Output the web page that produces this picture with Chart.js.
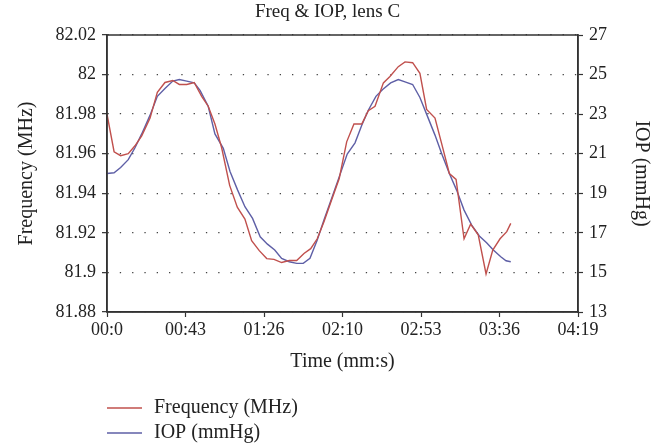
<!DOCTYPE html>
<html lang="en">
<head>
<meta charset="UTF-8">
<title>Freq & IOP, lens C</title>
<script src="https://cdn.jsdelivr.net/npm/chart.js@4.4.0/dist/chart.umd.min.js"></script>
<style>
  html, body { margin: 0; padding: 0; background: #fff; }
  #wrap { width: 655px; height: 447px; position: relative; }
</style>
</head>
<body>
<div id="wrap"><canvas id="myChart" width="655" height="447"></canvas></div>
<script>
// time in seconds, frequency in MHz
const freqTime = [0, 3.9, 7.5, 11.7, 15.4, 19.1, 23.7, 27.7, 31.9, 36.2, 39.8, 43.9, 48.0, 52.1, 55.7, 59.4, 63.1, 67.5,
  71.7, 75.9, 79.6, 83.8, 87.9, 91.9, 96.1, 100.3, 104.4, 108.4, 112.1, 115.7, 119.4, 123.6, 127.8, 131.9, 135.9,
  140.2, 143.8, 147.5, 152.1, 155.7, 160.3, 164.0, 168.2, 172.2, 175.9, 180.5, 184.2, 188.4, 192.1, 196.5, 200.1,
  204.3, 208.6, 212.3, 216.3, 220.0, 222.2];
const freqVal = [81.98, 81.961, 81.959, 81.960, 81.964, 81.969, 81.978, 81.991, 81.996, 81.997, 81.995, 81.995, 81.996,
  81.989, 81.984, 81.975, 81.963, 81.944, 81.933, 81.927, 81.916, 81.911, 81.907, 81.9066, 81.905, 81.906, 81.906,
  81.9096, 81.912, 81.917, 81.9256, 81.9366, 81.9475, 81.966, 81.975, 81.975, 81.9817, 81.984, 81.9958, 81.999,
  82.004, 82.0064, 82.006, 82.0006, 81.9824, 81.978, 81.965, 81.950, 81.947, 81.917, 81.9244, 81.919, 81.8992,
  81.9113, 81.917, 81.9206, 81.9248];

// time in seconds, IOP in mmHg
const iopTime = [0, 3.9, 7.5, 11.7, 15.4, 19.1, 23.7, 27.7, 31.9, 36.2, 39.8, 43.9, 48.0, 51.2, 55.7, 59.4, 64.0, 67.7,
  71.9, 75.9, 80.1, 84.3, 88.3, 92.3, 96.1, 100.3, 104.4, 108.0, 111.7, 115.7, 119.4, 123.6, 129.1, 132.2, 136.5,
  140.2, 143.8, 148.0, 151.7, 156.1, 160.3, 164.0, 168.2, 172.2, 176.1, 180.5, 184.2, 188.4, 192.4, 196.5, 200.7,
  204.9, 208.9, 212.6, 216.7, 219.6, 222.2];
const iopVal = [20.0, 20.04, 20.3, 20.7, 21.3, 22.0, 22.95, 23.9, 24.3, 24.67, 24.75, 24.67, 24.58, 24.2, 23.4, 22.0,
  21.27, 20.1, 19.16, 18.32, 17.73, 16.8, 16.43, 16.13, 15.71, 15.54, 15.46, 15.46, 15.71, 16.64, 17.65, 18.74, 20.17,
  20.98, 21.55, 22.44, 23.2, 23.9, 24.25, 24.58, 24.75, 24.63, 24.5, 23.84, 22.95, 21.94, 21.0, 20.0, 19.16, 18.15,
  17.39, 16.84, 16.5, 16.13, 15.79, 15.59, 15.54];

const xTicks = [0, 43.2, 86.4, 129.6, 172.8, 216, 259.2];
const xLabels = ['00:0', '00:43', '01:26', '02:10', '02:53', '03:36', '04:19'];
const freqTicks = [81.88, 81.90, 81.92, 81.94, 81.96, 81.98, 82.00, 82.02];
const freqLabels = ['81.88', '81.9', '81.92', '81.94', '81.96', '81.98', '82', '82.02'];
const iopTicks = [13, 15, 17, 19, 21, 23, 25, 27];

const seriesNames = ['Frequency (MHz)', 'IOP (mmHg)'];
const seriesColors = ['#c0504d', '#5e5fa6'];

Chart.defaults.font.family = '"Liberation Serif", serif';
Chart.defaults.color = '#222';

const axisColor = '#333';

// box round the plot area and the legend under it
const frame = {
  id: 'frame',
  afterDraw(chart) {
    const c = chart.ctx, a = chart.chartArea;
    c.save();
    c.strokeStyle = axisColor;
    c.lineWidth = 1.5;
    c.strokeRect(a.left, a.top, a.right - a.left, a.bottom - a.top);
    c.font = '20px "Liberation Serif", serif';
    c.textBaseline = 'middle';
    c.fillStyle = '#222';
    const ys = [408, 433];
    for (let i = 0; i < 2; i++) {
      c.strokeStyle = seriesColors[i];
      c.lineWidth = 1.3;
      c.beginPath();
      c.moveTo(107, ys[i]);
      c.lineTo(142, ys[i]);
      c.stroke();
      c.fillText(seriesNames[i], 154, ys[i]);
    }
    c.restore();
  }
};

const ctx = document.getElementById('myChart');
new Chart(ctx, {
  type: 'line',
  data: {
    datasets: [
      {
        label: seriesNames[0],
        data: freqTime.map((t, i) => ({ x: t, y: freqVal[i] })),
        borderColor: seriesColors[0],
        borderWidth: 1.4,
        pointRadius: 0,
        tension: 0,
        yAxisID: 'y'
      },
      {
        label: seriesNames[1],
        data: iopTime.map((t, i) => ({ x: t, y: iopVal[i] })),
        borderColor: seriesColors[1],
        borderWidth: 1.4,
        pointRadius: 0,
        tension: 0,
        yAxisID: 'y2'
      }
    ]
  },
  options: {
    responsive: false,
    animation: false,
    layout: { padding: 0 },
    plugins: {
      legend: { display: false },
      tooltip: { enabled: false },
      title: {
        display: true,
        text: 'Freq & IOP, lens C',
        font: { size: 19, weight: 'normal' },
        color: '#222',
        padding: { top: 1, bottom: 11.2 }
      }
    },
    scales: {
      x: {
        type: 'linear',
        min: 0,
        max: 259.2,
        afterBuildTicks: s => { s.ticks = xTicks.map(v => ({ value: v })); },
        afterFit: s => { s.height = 135; },
        ticks: {
          callback: (v, i) => xLabels[i],
          font: { size: 18 },
          color: '#222',
          padding: 2,
          maxRotation: 0,
          autoSkip: false
        },
        grid: { drawOnChartArea: false, tickLength: 5, tickColor: axisColor, tickWidth: 1.2 },
        border: { color: axisColor, width: 1.5 },
        title: {
          display: true,
          text: 'Time (mm:s)',
          font: { size: 20 },
          color: '#222',
          padding: { top: 4, bottom: 73 }
        }
      },
      y: {
        position: 'left',
        min: 81.88,
        max: 82.02,
        afterBuildTicks: s => { s.ticks = freqTicks.map(v => ({ value: v })); },
        afterFit: s => { s.width = 107; },
        ticks: {
          callback: (v, i) => freqLabels[i],
          font: { size: 18 },
          color: '#222',
          padding: 6
        },
        grid: {
          color: '#444',
          lineWidth: 1.3,
          tickLength: 5,
          tickColor: axisColor,
          tickWidth: 1.2,
          tickBorderDash: []
        },
        border: { color: axisColor, width: 1.5, dash: [1.3, 11] },
        title: {
          display: true,
          text: 'Frequency (MHz)',
          font: { size: 20 },
          color: '#222',
          padding: { top: 15, bottom: 4 }
        }
      },
      y2: {
        position: 'right',
        min: 13,
        max: 27,
        afterBuildTicks: s => { s.ticks = iopTicks.map(v => ({ value: v })); },
        afterFit: s => { s.width = 77; },
        ticks: { font: { size: 18 }, color: '#222', padding: 6 },
        grid: { drawOnChartArea: false, tickLength: 5, tickColor: axisColor, tickWidth: 1.2 },
        border: { color: axisColor, width: 1.5 },
        title: {
          display: true,
          text: 'IOP (mmHg)',
          font: { size: 20 },
          color: '#222',
          padding: { top: 2, bottom: 4 }
        }
      }
    }
  },
  plugins: [frame]
});
</script>
</body>
</html>
